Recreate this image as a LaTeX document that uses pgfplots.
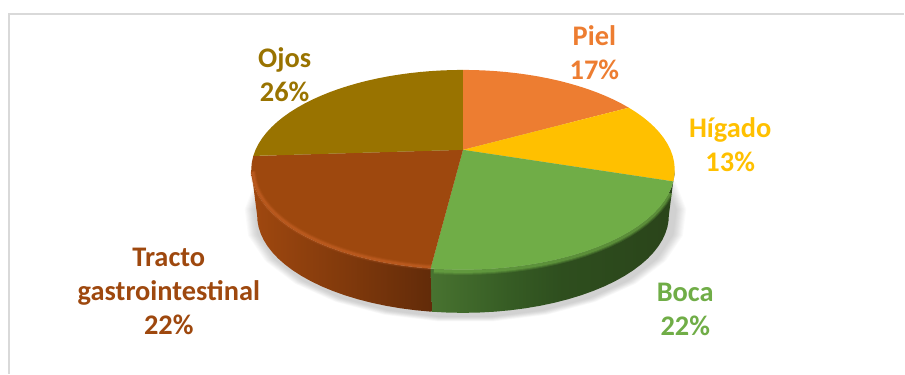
\documentclass[border=0pt]{standalone}
\usepackage{pgfplots}
\usepackage{fontspec}
\setmainfont{Carlito}
\pgfplotsset{compat=1.18}
\usepackage{pgfplotstable}
\definecolor{cPiel}{HTML}{ED7D31}
\definecolor{cHigado}{HTML}{FFC000}
\definecolor{cBoca}{HTML}{70AD47}
\definecolor{cTracto}{HTML}{9E480E}
\definecolor{cOjos}{HTML}{997300}
\definecolor{wb0}{RGB}{160,72,15}
\definecolor{wb1}{RGB}{130,58,12}
\definecolor{wb2}{RGB}{98,43,9}
\definecolor{wg0}{RGB}{72,115,48}
\definecolor{wg1}{RGB}{54,92,36}
\definecolor{wg2}{RGB}{46,78,30}
\definecolor{wg3}{RGB}{42,68,26}
\definecolor{glow}{RGB}{210,105,45}
\pgfdeclarehorizontalshading{wallbrown}{100bp}{color(0bp)=(wb0);color(25bp)=(wb0);color(50bp)=(wb1);color(75bp)=(wb2);color(100bp)=(wb2)}
\pgfdeclarehorizontalshading{wallgreen}{100bp}{color(0bp)=(wg0);color(25bp)=(wg0);color(41bp)=(wg1);color(52bp)=(wg2);color(75bp)=(wg3);color(100bp)=(wg3)}
% Sector outlines: p is the position around the pie in percent, r the radial position.
\pgfplotstableread[row sep=\\]{p r\\0 0\\0 1\\1 1\\2 1\\3 1\\4 1\\5 1\\6 1\\7 1\\8 1\\9 1\\10 1\\11 1\\12 1\\13 1\\14 1\\15 1\\16 1\\17 1\\}\tblPiel
\pgfplotstableread[row sep=\\]{p r\\17 0\\17 1\\18 1\\19 1\\20 1\\21 1\\22 1\\23 1\\24 1\\25 1\\26 1\\27 1\\28 1\\29 1\\30 1\\}\tblHigado
\pgfplotstableread[row sep=\\]{p r\\30 0\\30 1\\31 1\\32 1\\33 1\\34 1\\35 1\\36 1\\37 1\\38 1\\39 1\\40 1\\41 1\\42 1\\43 1\\44 1\\45 1\\46 1\\47 1\\48 1\\49 1\\50 1\\51 1\\52 1\\}\tblBoca
\pgfplotstableread[row sep=\\]{p r\\52 0\\52 1\\53 1\\54 1\\55 1\\56 1\\57 1\\58 1\\59 1\\60 1\\61 1\\62 1\\63 1\\64 1\\65 1\\66 1\\67 1\\68 1\\69 1\\70 1\\71 1\\72 1\\73 1\\74 1\\}\tblTracto
\pgfplotstableread[row sep=\\]{p r\\74 0\\74 1\\75 1\\76 1\\77 1\\78 1\\79 1\\80 1\\81 1\\82 1\\83 1\\84 1\\85 1\\86 1\\87 1\\88 1\\89 1\\90 1\\91 1\\92 1\\93 1\\94 1\\95 1\\96 1\\97 1\\98 1\\99 1\\100 1\\}\tblOjos
% Side walls: d is the drop below the top face.
\pgfplotstableread[row sep=\\]{p d\\28.2 0\\29 0\\30 0\\31 0\\32 0\\33 0\\34 0\\35 0\\36 0\\37 0\\38 0\\39 0\\40 0\\41 0\\42 0\\43 0\\44 0\\45 0\\46 0\\47 0\\48 0\\49 0\\50 0\\51 0\\52 0\\52 1\\51 1\\50 1\\49 1\\48 1\\47 1\\46 1\\45 1\\44 1\\43 1\\42 1\\41 1\\40 1\\39 1\\38 1\\37 1\\36 1\\35 1\\34 1\\33 1\\32 1\\31 1\\30 1\\29 1\\28.2 1\\}\tblWallBoca
\pgfplotstableread[row sep=\\]{p d\\52 0\\53 0\\54 0\\55 0\\56 0\\57 0\\58 0\\59 0\\60 0\\61 0\\62 0\\63 0\\64 0\\65 0\\66 0\\67 0\\68 0\\69 0\\70 0\\71 0\\71.8 0\\71.8 1\\71 1\\70 1\\69 1\\68 1\\67 1\\66 1\\65 1\\64 1\\63 1\\62 1\\61 1\\60 1\\59 1\\58 1\\57 1\\56 1\\55 1\\54 1\\53 1\\52 1\\}\tblWallTracto
% Rim lines along the front of the top face.
\pgfplotstableread[row sep=\\]{p q\\31.5 0\\32 0\\33 0\\34 0\\35 0\\36 0\\37 0\\38 0\\39 0\\40 0\\41 0\\42 0\\43 0\\44 0\\45 0\\46 0\\47 0\\48 0\\49 0\\50 0\\51 0\\51.8 0\\}\tblRimBoca
\pgfplotstableread[row sep=\\]{p q\\52 0\\53 0\\54 0\\55 0\\56 0\\57 0\\58 0\\59 0\\60 0\\61 0\\62 0\\63 0\\64 0\\65 0\\66 0\\67 0\\68 0\\69 0\\70 0\\71 0\\71.5 0\\}\tblRimTracto
\pgfplotstableread[row sep=\\]{p q\\0 0\\4 0\\8 0\\12 0\\16 0\\20 0\\24 0\\28 0\\32 0\\36 0\\40 0\\44 0\\48 0\\52 0\\56 0\\60 0\\64 0\\68 0\\72 0\\76 0\\80 0\\84 0\\88 0\\92 0\\96 0\\100 0\\}\tblRound
\def\topX{fx(\thisrow{p},\thisrow{r})}
\def\topY{fy(\thisrow{p},\thisrow{r})}
\def\wallX{wx(\thisrow{p},\thisrow{d})}
\def\wallY{wy(\thisrow{p},\thisrow{d})}
\begin{document}
\begin{tikzpicture}[
  lab/.style={font=\fontsize{28.5}{34.2}\selectfont\bfseries, align=center, inner sep=0pt},
  declare function={
  den(\p,\r)=1+0.2*\r*cos(3.6*\p);
  fx(\p,\r)=463.5+207.7*\r*sin(3.6*\p)/den(\p,\r);
  fy(\p,\r)=170-(100*\r*cos(3.6*\p)+20)/den(\p,\r);
  wx(\p,\d)=463.5+(1-0.028*\d)*207.7*sin(3.6*\p)/den(\p,1);
  wy(\p,\d)=170+46*\d-(1-0.028*\d)*(100*cos(3.6*\p)+20)/den(\p,1);
  sx(\p,\s)=466+\s*214*sin(3.6*\p);
  sy(\p,\s)=216-\s*103*cos(3.6*\p);
}]
\begin{axis}[
  scale only axis, width=905bp, height=374bp,
  xmin=0, xmax=905, ymin=0, ymax=374, y dir=reverse,
  hide axis, clip=false,
]
% full canvas extent
\path (axis cs:0,0) rectangle (axis cs:905,374);
% panel border
\addplot[color=black!15, line width=2bp, forget plot] coordinates {(9,374) (9,14) (905,14)};
% soft drop shadow
\pgfplotsinvokeforeach{1.035,1.03,1.025,1.02,1.015,1.01,1.005,1.0,0.995,0.99}{
  \addplot[draw=none, forget plot, fill=black, fill opacity=0.018] table[x expr={sx(\thisrow{p},#1)}, y expr={sy(\thisrow{p},#1)}] {\tblRound};
}
% side walls
\addplot[draw=none, forget plot, shading=wallgreen] table[x expr=\wallX, y expr=\wallY] {\tblWallBoca};
\addplot[draw=none, forget plot, shading=wallbrown] table[x expr=\wallX, y expr=\wallY] {\tblWallTracto};
% top faces
\addplot[draw=none, forget plot, fill=cPiel] table[x expr=\topX, y expr=\topY] {\tblPiel};
\addplot[draw=none, forget plot, fill=cHigado] table[x expr=\topX, y expr=\topY] {\tblHigado};
\addplot[draw=none, forget plot, fill=cBoca] table[x expr=\topX, y expr=\topY] {\tblBoca};
\addplot[draw=none, forget plot, fill=cTracto] table[x expr=\topX, y expr=\topY] {\tblTracto};
\addplot[draw=none, forget plot, fill=cOjos] table[x expr=\topX, y expr=\topY] {\tblOjos};
% rounded bevel where the top face turns into the wall
\addplot[forget plot, no marks, color=cBoca, line width=7bp, opacity=0.22] table[x expr={wx(\thisrow{p},0.04)}, y expr={wy(\thisrow{p},0.04)}] {\tblRimBoca};
\addplot[forget plot, no marks, color=cBoca, line width=5bp, opacity=0.3] table[x expr={wx(\thisrow{p},0.04)}, y expr={wy(\thisrow{p},0.04)}] {\tblRimBoca};
\addplot[forget plot, no marks, color=cBoca, line width=3bp, opacity=0.45] table[x expr={wx(\thisrow{p},0.04)}, y expr={wy(\thisrow{p},0.04)}] {\tblRimBoca};
\addplot[forget plot, no marks, color=glow, line width=6bp, opacity=0.13] table[x expr={fx(\thisrow{p},0.992)}, y expr={fy(\thisrow{p},0.992)}] {\tblRimTracto};
\addplot[forget plot, no marks, color=glow, line width=4bp, opacity=0.22] table[x expr={fx(\thisrow{p},0.992)}, y expr={fy(\thisrow{p},0.992)}] {\tblRimTracto};
\addplot[forget plot, no marks, color=glow, line width=2.2bp, opacity=0.28] table[x expr={fx(\thisrow{p},0.992)}, y expr={fy(\thisrow{p},0.992)}] {\tblRimTracto};
% category labels
\node[lab, text=cPiel] at (axis cs:595,53) {Piel\\17\%};
\node[lab, text=cHigado] at (axis cs:731,145) {Hígado\\13\%};
\node[lab, text=cBoca] at (axis cs:686,310) {Boca\\22\%};
\node[lab, text=cTracto] at (axis cs:169,292) {Tracto\\gastrointestinal\\22\%};
\node[lab, text=cOjos] at (axis cs:285,75) {Ojos\\26\%};
\end{axis}
\end{tikzpicture}
\end{document}
